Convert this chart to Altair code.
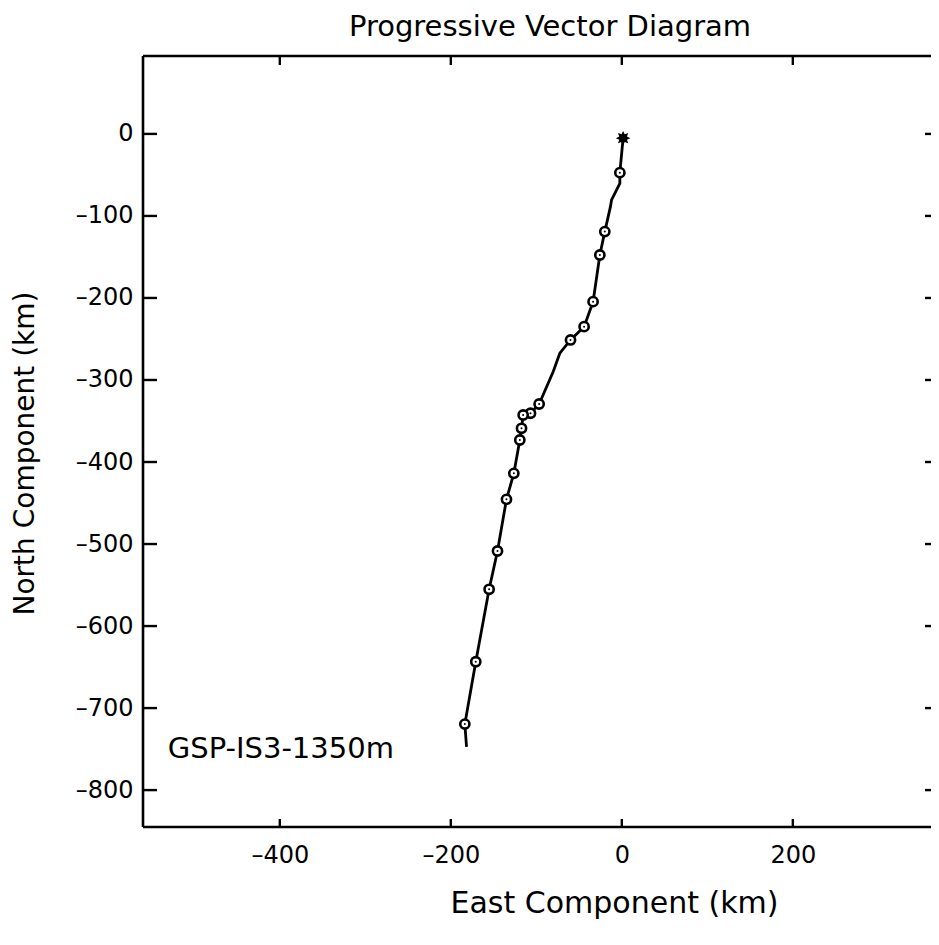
import altair as alt
import pandas as pd

# ---- data ----
path_east = [1.5, -2.3, -2.3, -12.0, -13.3, -19.9, -25.7, -33.6, -44.1, -60.0, -72.5, -80.3,
             -96.7, -106.8, -115.4, -117.3, -119.3, -126.3, -134.9, -145.4, -155.2, -170.8,
             -183.6, -181.6]
path_north = [-5.2, -47.2, -60.4, -80.5, -88.7, -119.1, -147.6, -204.5, -235.0, -251.2, -267.4,
              -289.9, -329.3, -340.6, -342.7, -358.9, -373.2, -413.8, -445.5, -508.5, -555.2,
              -643.5, -719.5, -747.2]

marker_east = [-2.3, -19.9, -25.7, -33.6, -44.1, -60.0, -96.7, -106.8, -115.4, -117.3, -119.3,
               -126.3, -134.9, -145.4, -155.2, -170.8, -183.6]
marker_north = [-47.2, -119.1, -147.6, -204.5, -235.0, -251.2, -329.3, -340.6, -342.7, -358.9,
                -373.2, -413.8, -445.5, -508.5, -555.2, -643.5, -719.5]

start_east = [1.5]
start_north = [-5.2]

x_ticks = [-400, -200, 0, 200]
y_ticks = [0, -100, -200, -300, -400, -500, -600, -700, -800]

label_text = ["GSP-IS3-1350m"]
label_east = [-531]
label_north = [-761]

title_text = "Progressive Vector Diagram"
x_title = "East Component (km)"
y_title = "North Component (km)"

# ---- layout ----
W, H = 788, 771
FONT = "DejaVu Sans"
xscale = alt.Scale(domain=[-560, 361.6], nice=False, zero=False)
yscale = alt.Scale(domain=[-845, 95], nice=False, zero=False)
lab_expr = "datum.value < 0 ? '\u2013' + format(-datum.value, 'd') : format(datum.value, 'd')"

xaxis = alt.Axis(values=x_ticks, title=x_title, ticks=False, domain=False, grid=False,
                 labelPadding=16, labelExpr=lab_expr, labelFontSize=24, labelFont=FONT,
                 labelColor="black", titleFontSize=30, titleFont=FONT,
                 titleFontWeight="normal", titleColor="black", titleX=471, titleY=85,
                 titleAlign="center", titleBaseline="alphabetic")
yaxis = alt.Axis(values=y_ticks, title=y_title, ticks=False, domain=False, grid=False,
                 labelPadding=10, labelExpr=lab_expr, labelFontSize=24, labelFont=FONT,
                 labelColor="black", titleFontSize=28, titleFont=FONT,
                 titleFontWeight="normal", titleColor="black", titleX=-110, titleY=397,
                 titleAlign="center", titleBaseline="alphabetic")


def X():
    return alt.X("east:Q", scale=xscale, axis=xaxis)


def Y():
    return alt.Y("north:Q", scale=yscale, axis=yaxis)


path_df = pd.DataFrame({"east": path_east, "north": path_north, "order": list(range(len(path_east)))})
marker_df = pd.DataFrame({"east": marker_east, "north": marker_north})
start_df = pd.DataFrame({"east": start_east, "north": start_north})
xt_df = pd.DataFrame({"east": x_ticks})
yt_df = pd.DataFrame({"north": y_ticks})
lab_df = pd.DataFrame({"east": label_east, "north": label_north, "t": label_text})
one = pd.DataFrame({"a": [0]})

line = alt.Chart(path_df).mark_line(color="black", strokeWidth=2.8).encode(
    x=X(), y=Y(), order="order:Q")

markers = alt.Chart(marker_df).mark_point(shape="circle", size=85, filled=True, fill="white",
                                          stroke="black", strokeWidth=2.6, opacity=1).encode(
    x=X(), y=Y())
centers = alt.Chart(marker_df).mark_point(shape="circle", size=4, filled=True, color="black",
                                          opacity=1).encode(x=X(), y=Y())

star_path = ("M0,-1L0.22,-0.53L0.71,-0.71L0.53,-0.22L1,0L0.53,0.22L0.71,0.71L0.22,0.53"
             "L0,1L-0.22,0.53L-0.71,0.71L-0.53,0.22L-1,0L-0.53,-0.22L-0.71,-0.71L-0.22,-0.53Z")
start = alt.Chart(start_df).mark_point(shape=star_path, size=210, filled=True, color="black",
                                       opacity=1).encode(x=X(), y=Y())

label = alt.Chart(lab_df).mark_text(align="left", baseline="alphabetic", font=FONT, fontSize=29,
                                    color="black").encode(x=X(), y=Y(), text="t:N")

# frame (left, top, bottom; the right edge lies beyond the picture)
fr = dict(color="black", strokeWidth=2.6)
frame_top = alt.Chart(one).mark_rule(**fr).encode(x=alt.value(0), x2=alt.value(W), y=alt.value(0))
frame_bot = alt.Chart(one).mark_rule(**fr).encode(x=alt.value(0), x2=alt.value(W), y=alt.value(H))
frame_left = alt.Chart(one).mark_rule(**fr).encode(x=alt.value(0), y=alt.value(0), y2=alt.value(H))

tk = dict(color="black", strokeWidth=2.4)
ticks_left = alt.Chart(yt_df).mark_rule(**tk).encode(y=Y(), x=alt.value(0), x2=alt.value(14))
ticks_right = alt.Chart(yt_df).mark_rule(**tk).encode(y=Y(), x=alt.value(W - 6), x2=alt.value(W))
ticks_top = alt.Chart(xt_df).mark_rule(**tk).encode(x=X(), y=alt.value(0), y2=alt.value(9))
ticks_bot = alt.Chart(xt_df).mark_rule(**tk).encode(x=X(), y=alt.value(H - 8), y2=alt.value(H))

chart = alt.layer(
    line, frame_top, frame_bot, frame_left, ticks_left, ticks_right, ticks_top, ticks_bot,
    markers, centers, start, label,
).properties(
    width=W, height=H,
    title=alt.TitleParams(text=title_text, font=FONT, fontSize=29, fontWeight="normal",
                          color="black", anchor="middle", dx=13, offset=13),
    autosize=alt.AutoSizeParams(type="none"),
    padding={"left": 135, "top": 48, "right": 0, "bottom": 100},
    background="white",
).configure_view(stroke=None)

chart.save("out.html", embed_options={"renderer": "svg", "actions": False})
